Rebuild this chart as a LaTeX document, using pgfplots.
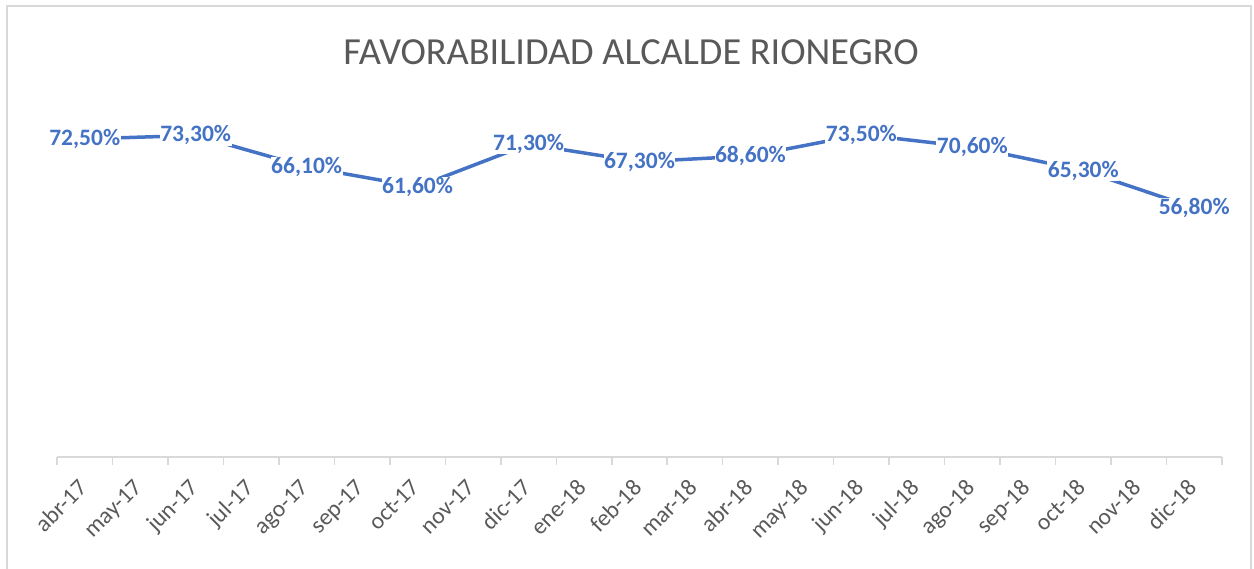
\documentclass[border=0pt]{standalone}
\usepackage{pgfplots}
\pgfplotsset{compat=1.18}
\usepackage{fontspec}
\setmainfont{Carlito}
\definecolor{lineblue}{HTML}{4472C4}
\definecolor{titlegray}{HTML}{595959}
\definecolor{axisgray}{HTML}{D9D9D9}
\begin{document}
\begin{tikzpicture}
\useasboundingbox (0pt,0pt) rectangle (1254pt,569pt);
\draw[axisgray, line width=1.5pt] (7pt,0pt) -- (7pt,563pt) -- (1251pt,563pt) -- (1251pt,0pt);
\node[text=titlegray, font=\fontsize{38.3}{46}\selectfont, anchor=center] at (631pt,517pt) {FAVORABILIDAD ALCALDE RIONEGRO};
\begin{axis}[
  at={(57pt,112pt)}, anchor=south west,
  scale only axis, width=1165pt, height=351pt,
  xmin=-0.5, xmax=20.5, ymin=0, ymax=80,
  axis y line=none, axis x line*=bottom,
  x axis line style={draw=axisgray, line width=1.5pt},
  xtick={0,...,20},
  xticklabels={abr-17,may-17,jun-17,jul-17,ago-17,sep-17,oct-17,nov-17,dic-17,ene-18,feb-18,mar-18,abr-18,may-18,jun-18,jul-18,ago-18,sep-18,oct-18,nov-18,dic-18},
  major tick length=0pt,
  minor xtick={-0.5,0.5,1.5,2.5,3.5,4.5,5.5,6.5,7.5,8.5,9.5,10.5,11.5,12.5,13.5,14.5,15.5,16.5,17.5,18.5,19.5,20.5},
  minor tick length=8pt, tick align=outside,
  every tick/.style={draw=axisgray, line width=1.5pt},
  xticklabel style={xshift=-8pt, yshift=-16pt, rotate=45, anchor=north east, font=\fontsize{23.5}{28}\selectfont, text=titlegray},
  clip=false,
  /pgf/number format/.cd, fixed, fixed zerofill, precision=2, use comma, assume math mode=true,
]
\addplot[lineblue, line width=3.5pt,
  nodes near coords={\pgfmathprintnumber{\pgfplotspointmeta}\%},
  every node near coord/.append style={anchor=center, font=\bfseries\fontsize{23.5}{28}\selectfont, text=lineblue, fill=white, inner sep=0.5pt}]
  coordinates {(0,72.5) (2,73.3) (4,66.1) (6,61.6) (8,71.3) (10,67.3) (12,68.6) (14,73.5) (16,70.6) (18,65.3) (20,56.8)};
\end{axis}
\end{tikzpicture}
\end{document}
